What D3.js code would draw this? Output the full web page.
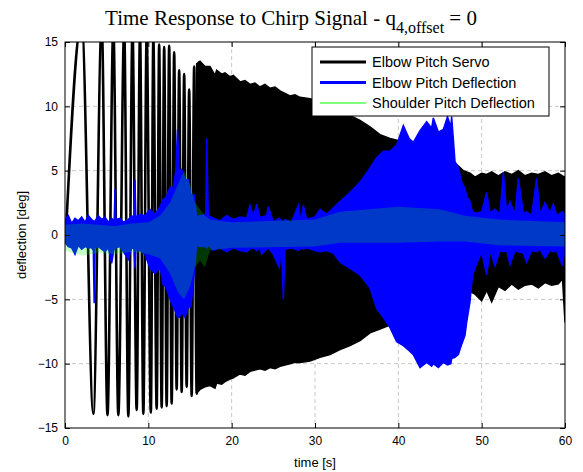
<!DOCTYPE html>
<html>
<head>
<meta charset="utf-8">
<title>Time Response to Chirp Signal</title>
<script src="https://cdnjs.cloudflare.com/ajax/libs/d3/7.8.5/d3.min.js"></script>
<style>
body { margin: 0; background: #fff; }
text { font-family: "Liberation Sans", Arial, sans-serif; }
</style>
</head>
<body>
<script>
var seriesNames = ['Elbow Pitch Servo', 'Elbow Pitch Deflection', 'Shoulder Pitch Deflection'];
var xTicks = [0, 10, 20, 30, 40, 50, 60];
var yTicks = [-15, -10, -5, 0, 5, 10, 15];

// servo: distinct swings at the start of the sweep (time, deg)
var servoT = [0.1, 2.0, 3.4, 4.4, 5.1, 5.8, 6.4, 7.1, 7.6, 8.1, 8.6, 9.0, 9.4, 9.8, 10.3, 10.6, 11.0, 11.3, 11.6, 11.9, 12.2, 12.5, 12.8, 13.1, 13.4, 13.7, 14.0, 14.3, 14.6, 14.9, 15.2, 15.5, 15.8, 16.1];
var servoV = [0, 16.5, -13.9, 16.5, -14.0, 16.2, -14.0, 16, -14.1, 16, -13.6, 15.8, -13.9, 15.6, -13.8, 15.3, -13.5, 14.8, -13.4, 14.6, -13.3, 14.7, -13.1, 14.2, -12.0, 12.8, -12.2, 12.5, -11.8, 11.3, -12.5, 13.1, -12.3, 13.5];

// servo: dense part, upper / lower envelope
var servoBandT  = [15.8, 16.2, 16.8, 17.4, 18.0, 18.2, 18.8, 19.2, 19.8, 20.2, 21.0, 21.6, 22.2, 22.8, 23.4, 24.0, 24.6, 25.2, 25.8, 26.4, 27.0, 27.6, 28.2, 29.4, 30.6, 31.8, 33.0, 34.2, 35.4, 36.6, 37.8, 39.0, 40.2, 42.6, 45.0, 46.8, 47.8, 48.6, 49.2, 50.0, 50.6, 51.2, 52.0, 52.8, 53.6, 54.4, 55.2, 56.0, 56.8, 57.6, 58.4, 59.2, 59.7, 60.0];
var servoHi = [13.3, 13.5, 13.1, 13.1, 12.4, 12.8, 12.5, 12.6, 12.3, 12.4, 11.9, 12.0, 11.7, 11.8, 11.5, 11.7, 11.4, 11.5, 11.2, 11.0, 10.8, 10.9, 10.7, 10.6, 10.4, 10.2, 9.8, 9.3, 8.9, 8.4, 7.8, 7.5, 7.3, 6.6, 6.0, 5.6, 5.0, 4.8, 4.5, 4.8, 4.7, 4.9, 4.6, 4.9, 4.7, 5.0, 4.6, 4.8, 4.7, 4.9, 4.6, 4.8, 4.6, 4.5];
var servoLo = [-12.3, -12.0, -11.8, -11.7, -11.9, -11.5, -11.6, -11.4, -11.2, -11.1, -10.8, -10.9, -10.6, -10.5, -10.4, -10.5, -10.3, -10.4, -10.2, -10.1, -10.0, -9.9, -9.9, -9.8, -9.5, -9.3, -8.9, -8.6, -8.2, -7.6, -7.3, -7.0, -6.8, -6.2, -5.6, -5.3, -5.0, -4.4, -4.6, -5.1, -4.3, -5.2, -4.0, -4.3, -3.8, -4.2, -3.9, -3.8, -4.1, -3.7, -3.9, -3.8, -3.4, -6.8];

// elbow deflection envelope
var elbowT  = [0.0, 0.4, 0.8, 1.2, 1.6, 2.0, 2.4, 2.8, 3.2, 3.4, 3.5, 3.6, 4.0, 4.4, 4.8, 5.2, 5.6, 5.9, 6.0, 6.1, 6.6, 7.0, 7.6, 8.0, 8.3, 8.4, 8.5, 9.0, 9.6, 10.2, 10.8, 11.4, 11.8, 12.1, 12.6, 13.0, 13.3, 13.5, 13.7, 14.0, 14.4, 14.8, 15.1, 15.5, 15.8, 16.2, 16.9, 17.0, 17.2, 17.8, 18.6, 19.4, 20.2, 21.0, 21.8, 22.2, 22.6, 23.0, 23.4, 23.6, 24.2, 24.4, 25.0, 25.7, 26.0, 26.2, 26.4, 27.2, 28.0, 28.3, 28.6, 29.0, 30.0, 30.6, 31.4, 32.2, 33.0, 34.2, 35.4, 36.6, 37.4, 38.2, 39.0, 39.8, 40.6, 41.3, 41.8, 42.6, 43.4, 44.0, 44.2, 44.8, 45.4, 45.9, 46.3, 46.4, 46.8, 47.2, 47.6, 48.0, 48.2, 48.6, 48.9, 49.3, 50.0, 50.6, 51.0, 51.6, 52.2, 52.6, 53.0, 53.4, 54.0, 54.4, 55.0, 55.4, 56.0, 56.6, 57.0, 57.6, 58.2, 58.6, 59.0, 59.7, 60.0];
var elbowHi = [1.2, 1.5, 0.9, 1.3, 1.1, 1.4, 1.0, 1.5, 1.2, 1.1, 1.0, 1.1, 1.5, 1.2, 1.4, 1.0, 1.3, 1.1, 3.6, 1.2, 1.3, 1.0, 1.2, 1.5, 1.3, 4.3, 1.4, 1.6, 1.5, 2.0, 1.6, 2.2, 2.8, 2.9, 3.7, 3.7, 5.0, 8.2, 5.0, 5.1, 4.3, 4.3, 3.1, 3.1, 1.4, 1.5, 1.6, 7.5, 1.5, 1.3, 1.1, 1.5, 1.2, 1.4, 1.3, 2.3, 1.4, 2.4, 1.3, 1.4, 1.5, 2.2, 1.0, 1.3, 1.1, 1.0, 1.2, 1.0, 2.3, 1.1, 2.3, 1.2, 1.4, 2.0, 1.6, 2.1, 2.6, 3.3, 4.1, 5.2, 6.0, 6.5, 6.5, 7.0, 8.5, 7.5, 7.2, 8.1, 8.8, 8.3, 9.1, 8.0, 8.2, 9.2, 8.4, 9.2, 5.7, 5.2, 4.1, 3.6, 3.0, 2.6, 1.8, 1.7, 1.8, 3.3, 1.7, 2.0, 1.6, 4.9, 1.7, 2.6, 1.6, 4.4, 1.7, 1.8, 1.5, 4.4, 1.6, 2.5, 1.7, 2.4, 1.5, 1.8, 1.5];
var elbowLo = [-0.6, -0.9, -1.0, -1.5, -0.8, -1.1, -0.9, -1.0, -1.0, -1.2, -5.3, -1.0, -0.9, -1.1, -1.3, -1.0, -2.2, -1.0, -1.1, -1.0, -0.9, -1.3, -1.9, -1.0, -1.1, -2.6, -1.2, -1.2, -1.5, -2.6, -3.0, -2.5, -3.9, -4.0, -5.0, -5.6, -6.0, -6.4, -6.4, -6.0, -6.4, -5.6, -5.6, -3.0, -0.8, -0.9, -0.9, -1.0, -0.8, -1.2, -1.0, -1.3, -1.0, -1.2, -1.3, -1.1, -1.0, -1.2, -1.0, -1.5, -1.1, -1.0, -1.5, -2.5, -1.0, -5.0, -1.1, -1.0, -1.2, -1.0, -1.1, -1.0, -1.2, -1.3, -1.2, -1.4, -2.1, -2.6, -3.1, -4.1, -5.7, -6.4, -7.2, -8.3, -8.6, -9.0, -9.3, -10.3, -9.9, -10.2, -10.0, -10.3, -9.9, -10.1, -10.0, -9.6, -9.5, -9.3, -8.5, -7.8, -6.8, -5.2, -3.1, -2.4, -1.3, -3.1, -1.2, -2.4, -1.2, -1.3, -1.2, -2.3, -1.2, -1.3, -1.4, -2.1, -1.2, -1.3, -1.1, -1.8, -1.2, -1.3, -1.2, -2.4, -1.0];

// shoulder deflection envelope
var shoulderT  = [0.0, 2.0, 4.0, 6.0, 8.0, 10.0, 11.4, 12.6, 13.6, 14.3, 15.0, 15.6, 16.2, 16.8, 17.4, 20.0, 30.0, 33.0, 40.0, 45.0, 48.0, 52.0, 60.0];
var shoulderHi = [0.8, 0.9, 0.8, 0.7, 0.9, 1.0, 1.5, 2.5, 4.0, 5.0, 4.0, 2.5, 2.0, 1.5, 1.2, 1.0, 1.2, 1.8, 2.2, 2.0, 1.5, 1.2, 1.0];
var shoulderLo = [-1.2, -1.6, -1.4, -1.5, -1.3, -1.5, -1.8, -3.0, -4.5, -5.0, -4.0, -2.5, -2.0, -2.5, -1.2, -1.0, -0.9, -0.6, -0.6, -0.5, -0.5, -0.8, -0.9];

var width = 583, height = 472;
var margin = { top: 42, right: 18, bottom: 44, left: 65 };

var svg = d3.select('body').append('svg').attr('width', width).attr('height', height);

var x = d3.scaleLinear().domain([0, 60]).range([margin.left, width - margin.right]);
var y = d3.scaleLinear().domain([-15, 15]).range([height - margin.bottom, margin.top]);

svg.append('clipPath').attr('id', 'plot')
    .append('rect')
    .attr('x', margin.left).attr('y', margin.top)
    .attr('width', x(60) - x(0)).attr('height', y(-15) - y(15));

// grid
var grid = svg.append('g').attr('stroke', '#c8c8c8').attr('stroke-dasharray', '4,3');
grid.selectAll('.gx').data(xTicks.slice(1, -1)).enter().append('line')
    .attr('x1', function(d) { return x(d); }).attr('x2', function(d) { return x(d); })
    .attr('y1', y(15)).attr('y2', y(-15));
grid.selectAll('.gy').data(yTicks.slice(1, -1)).enter().append('line')
    .attr('y1', function(d) { return y(d); }).attr('y2', function(d) { return y(d); })
    .attr('x1', x(0)).attr('x2', x(60));

function zip(t, hi, lo) {
    return t.map(function(d, i) { return { t: d, hi: hi[i], lo: lo[i] }; });
}

var band = d3.area()
    .x(function(d) { return x(d.t); })
    .y0(function(d) { return y(d.lo); })
    .y1(function(d) { return y(d.hi); });

var plot = svg.append('g').attr('clip-path', 'url(#plot)');

var servoPts = servoT.map(function(d, i) { return { t: d, v: servoV[i] }; });
plot.append('path').datum(servoPts)
    .attr('fill', 'none').attr('stroke', '#000').attr('stroke-width', 2.6)
    .attr('d', d3.line().curve(d3.curveMonotoneX)
        .x(function(d) { return x(d.t); })
        .y(function(d) { return y(d.v); }));

plot.append('path').datum(zip(servoBandT, servoHi, servoLo))
    .attr('fill', '#000').attr('stroke', '#000').attr('stroke-width', 1.5)
    .attr('d', band);

plot.append('path').datum(zip(elbowT, elbowHi, elbowLo))
    .attr('fill', '#0000ff').attr('stroke', '#0000ff').attr('stroke-width', 1.5)
    .attr('d', band);

plot.append('path').datum(zip(shoulderT, shoulderHi, shoulderLo))
    .attr('fill', '#00ff00').attr('fill-opacity', 0.22)
    .attr('d', band);

// axes, MATLAB style inward ticks on all four sides
svg.append('g').attr('transform', 'translate(0,' + y(-15) + ')')
    .call(d3.axisBottom(x).tickValues(xTicks).tickSizeInner(-5).tickSizeOuter(0).tickPadding(8));
svg.append('g').attr('transform', 'translate(0,' + y(15) + ')')
    .call(d3.axisTop(x).tickValues(xTicks).tickSizeInner(-5).tickSizeOuter(0).tickFormat(''));
svg.append('g').attr('transform', 'translate(' + x(0) + ',0)')
    .call(d3.axisLeft(y).tickValues(yTicks).tickSizeInner(-5).tickSizeOuter(0).tickPadding(7));
svg.append('g').attr('transform', 'translate(' + x(60) + ',0)')
    .call(d3.axisRight(y).tickValues(yTicks).tickSizeInner(-5).tickSizeOuter(0).tickFormat(''));
svg.selectAll('.domain').remove();
svg.selectAll('.tick text').attr('font-size', 12).attr('fill', '#000')
    .attr('font-family', '"Liberation Sans", Arial, sans-serif');

svg.append('rect')
    .attr('x', x(0)).attr('y', y(15))
    .attr('width', x(60) - x(0)).attr('height', y(-15) - y(15))
    .attr('fill', 'none').attr('stroke', '#000').attr('stroke-width', 1);

// labels
svg.append('text').attr('x', (x(0) + x(60)) / 2).attr('y', 467)
    .attr('text-anchor', 'middle').attr('font-size', 13).text('time [s]');
svg.append('text').attr('transform', 'translate(26,' + y(0) + ') rotate(-90)')
    .attr('text-anchor', 'middle').attr('font-size', 13).text('deflection [deg]');

var title = svg.append('text').attr('x', 291).attr('y', 25).attr('text-anchor', 'middle')
    .style('font-family', '"Liberation Serif", "DejaVu Serif", serif').attr('font-size', 21);
title.append('tspan').text('Time Response to Chirp Signal - q');
title.append('tspan').attr('dy', 8).attr('font-size', 16).text('4,offset');
title.append('tspan').attr('dy', -8).text(' = 0');

// legend
var legend = svg.append('g');
legend.append('rect').attr('x', 312).attr('y', 47).attr('width', 237).attr('height', 69)
    .attr('fill', '#fff').attr('stroke', '#000');
var legendColors = ['#000', '#0000ff', '#00ff00'];
var legendWidths = [3, 3, 1];
var rows = legend.selectAll('.row').data(seriesNames).enter().append('g')
    .attr('transform', function(d, i) { return 'translate(0,' + (62 + i * 20.5) + ')'; });
rows.append('line').attr('x1', 320).attr('x2', 366)
    .attr('stroke', function(d, i) { return legendColors[i]; })
    .attr('stroke-width', function(d, i) { return legendWidths[i]; });
rows.append('text').attr('x', 372).attr('dy', '0.35em').attr('font-size', 14.5).text(function(d) { return d; });
</script>
</body>
</html>
